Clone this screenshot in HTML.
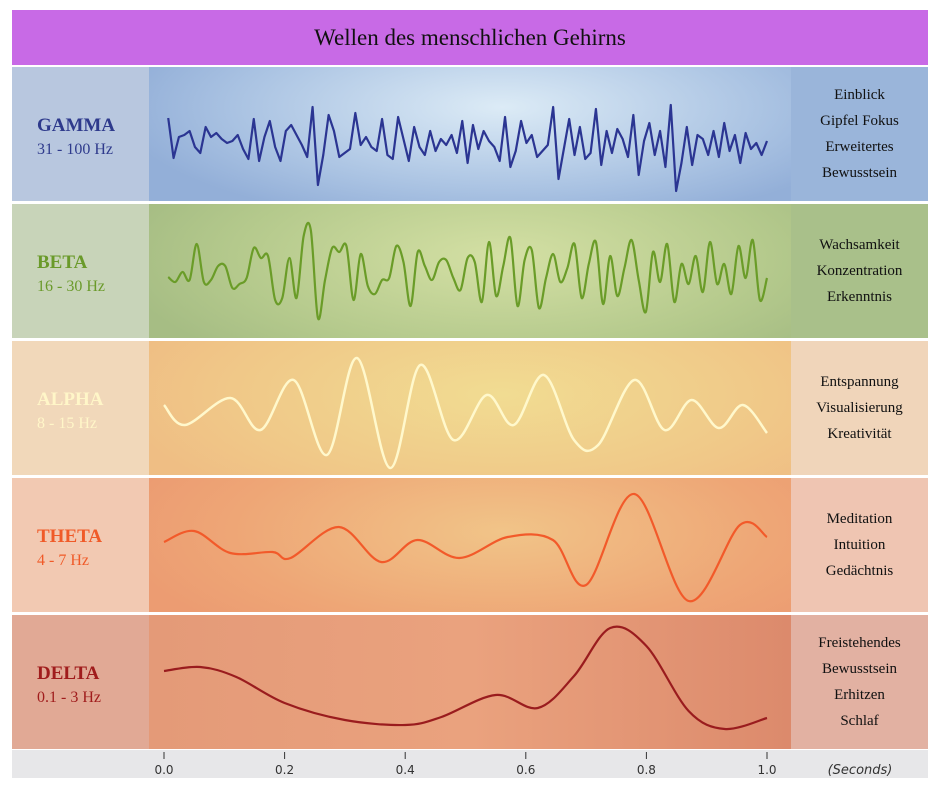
<!DOCTYPE html>
<html><head><meta charset="utf-8"><style>
body{margin:0;background:#fff;width:940px;height:788px;position:relative;overflow:hidden;font-family:"Liberation Serif",serif}
.abs{position:absolute}
.title{left:12px;top:10px;width:916px;height:55px;background:#c86ae6;text-align:center;line-height:55px;font-size:23px;color:#111}
.lab{left:12px;width:137px;height:134px}
.lab .n{position:absolute;left:25px;top:48px;font-weight:bold;font-size:19px}
.lab .h{position:absolute;left:25px;top:74px;font-size:16px}
.plot{left:149px;width:642px;height:134px}
.rt{left:791px;width:137px;height:134px;display:flex;flex-direction:column;justify-content:center;align-items:center;font-size:15px;line-height:26px;color:#111}
.axis{left:12px;top:750px;width:916px;height:28px;background:#e7e7e9}
</style></head><body>
<div class="abs title">Wellen des menschlichen Gehirns</div>

<div class="abs lab" style="top:67px;background:#b8c7df"><span class="n" style="color:#2e3a8c">GAMMA</span><span class="h" style="color:#2e3a8c">31 - 100 Hz</span></div>
<div class="abs plot" style="top:67px;background:radial-gradient(ellipse 60% 90% at 55% 30%,#dcebf6,#a9c2e2 70%,#93afd8)"></div>
<div class="abs rt" style="top:67px;background:#9ab5da"><div>Einblick</div><div>Gipfel Fokus</div><div>Erweitertes</div><div>Bewusstsein</div></div>

<div class="abs lab" style="top:204px;background:#c8d4b9"><span class="n" style="color:#6a9a2a">BETA</span><span class="h" style="color:#6a9a2a">16 - 30 Hz</span></div>
<div class="abs plot" style="top:204px;background:radial-gradient(ellipse 60% 100% at 55% 40%,#d4e0a4,#b4c98c 70%,#a6bd84)"></div>
<div class="abs rt" style="top:204px;background:#a9c08a"><div>Wachsamkeit</div><div>Konzentration</div><div>Erkenntnis</div></div>

<div class="abs lab" style="top:341px;background:#f1d8ba"><span class="n" style="color:#fff6c8">ALPHA</span><span class="h" style="color:#fff6c8">8 - 15 Hz</span></div>
<div class="abs plot" style="top:341px;background:radial-gradient(ellipse 60% 100% at 55% 40%,#f1dc92,#f0c888 70%,#efbe84)"></div>
<div class="abs rt" style="top:341px;background:#f0d5ba"><div>Entspannung</div><div>Visualisierung</div><div>Kreativität</div></div>

<div class="abs lab" style="top:478px;background:#f2c9b2"><span class="n" style="color:#f05a28">THETA</span><span class="h" style="color:#f05a28">4 - 7 Hz</span></div>
<div class="abs plot" style="top:478px;background:radial-gradient(ellipse 60% 100% at 55% 40%,#f1c488,#eea676 70%,#ec9c72)"></div>
<div class="abs rt" style="top:478px;background:#efc5b2"><div>Meditation</div><div>Intuition</div><div>Gedächtnis</div></div>

<div class="abs lab" style="top:615px;background:#e1a995"><span class="n" style="color:#a01c1c">DELTA</span><span class="h" style="color:#a01c1c">0.1 - 3 Hz</span></div>
<div class="abs plot" style="top:615px;background:linear-gradient(90deg,#e49a78,#eaa27e 50%,#dc8a6c)"></div>
<div class="abs rt" style="top:615px;background:#e2b1a2"><div>Freistehendes</div><div>Bewusstsein</div><div>Erhitzen</div><div>Schlaf</div></div>

<div class="abs axis"></div>
<svg class="abs" style="left:0;top:0" width="940" height="788" id="svg"></svg>
<script>
const xTicks=[0.0,0.2,0.4,0.6,0.8,1.0];
const xTickLabels=["0.0","0.2","0.4","0.6","0.8","1.0"];
const gammaValues=[27,-13,8,10,14,-2,-8,18,8,12,6,2,4,10,-4,-14,26,-16,8,24,-2,-16,14,20,10,0,-12,38,-40,-10,30,14,-12,-8,-4,32,0,8,-2,-6,26,-10,-14,28,6,-16,18,-2,-10,14,-6,6,0,10,-8,24,-18,20,-4,14,4,-2,-16,28,-22,-6,24,2,10,-12,-6,0,38,-34,-4,26,-10,18,-14,-8,36,-20,14,-8,16,6,-12,30,-30,4,22,-10,14,-22,40,-46,-18,18,-20,10,6,-10,14,-12,22,-6,10,-18,12,-4,2,-10,4];
const betaValues=[-5,-10,0,-8,28,-10,-8,6,6,-16,-12,-6,24,14,16,-28,-26,14,-26,36,42,-46,-8,24,20,26,-28,18,-14,-22,-8,-6,26,10,-34,20,6,-8,10,12,-6,-18,14,10,-30,30,-24,6,34,-34,12,22,-36,-6,18,-10,4,28,-26,8,30,-32,16,-24,4,32,-8,-40,20,-10,28,-30,8,-12,16,-20,30,-12,8,-22,26,-6,32,-28,-6];
const alphaTimes=[0,0.035,0.11,0.16,0.215,0.27,0.32,0.375,0.425,0.48,0.535,0.58,0.63,0.68,0.72,0.78,0.83,0.875,0.92,0.96,1.0];
const alphaValues=[5,-15,12,-20,30,-45,52,-58,45,-30,15,-15,35,-30,-35,30,-20,10,-18,5,-23];
const thetaTimes=[0,0.05,0.11,0.18,0.21,0.29,0.36,0.42,0.49,0.57,0.645,0.70,0.78,0.87,0.955,1.0];
const thetaValues=[2,13,-9,-8,-14,17,-18,4,-14,7,4,-41,50,-57,19,7];
const deltaTimes=[0,0.06,0.12,0.2,0.3,0.4,0.46,0.55,0.62,0.68,0.74,0.8,0.87,0.93,1.0];
const deltaValues=[10,14,4,-22,-39,-44,-36,-14,-27,5,53,35,-30,-48,-37];

const svg=document.getElementById('svg');
const NS='http://www.w3.org/2000/svg';
const xScale=t=>164+t*603;
function spline(pts){
  let d='M'+pts[0][0]+','+pts[0][1];
  for(let i=0;i<pts.length-1;i++){
    const p0=pts[Math.max(0,i-1)],p1=pts[i],p2=pts[i+1],p3=pts[Math.min(pts.length-1,i+2)];
    const c1=[p1[0]+(p2[0]-p0[0])/6,p1[1]+(p2[1]-p0[1])/6];
    const c2=[p2[0]-(p3[0]-p1[0])/6,p2[1]-(p3[1]-p1[1])/6];
    d+=' C'+c1[0]+','+c1[1]+' '+c2[0]+','+c2[1]+' '+p2[0]+','+p2[1];
  }
  return d;
}
function wave(name,times,vals,center,color,w,smooth,t0){
  const pts=vals.map((v,i)=>{const t=times?times[i]:t0+(1-t0)*i/(vals.length-1);return [xScale(t),center-v];});
  const p=document.createElementNS(NS,'path');
  
  
  p.setAttribute('d',smooth?spline(pts):'M'+pts.map(q=>q.join(',')).join(' L'));
  p.setAttribute('fill','none');p.setAttribute('stroke',color);p.setAttribute('stroke-width',w);
  p.setAttribute('stroke-linejoin','round');
  svg.appendChild(p);
}
wave('gamma-wave',null,gammaValues,145,'#2b3592',2.2,false,0.007);
wave('beta-wave',null,betaValues,272,'#6a9c28',2.2,true,0.007);
wave('alpha-wave',alphaTimes,alphaValues,410,'#fff8cc',2.5,true);
wave('theta-wave',thetaTimes,thetaValues,544,'#f25a2a',2.2,true);
wave('delta-wave',deltaTimes,deltaValues,681,'#9a1c1e',2.2,true);
xTicks.forEach((t,i)=>{
  const l=document.createElementNS(NS,'line');
  
  
  l.setAttribute('x1',xScale(t));l.setAttribute('x2',xScale(t));l.setAttribute('y1',752);l.setAttribute('y2',759);
  l.setAttribute('stroke','#333');l.setAttribute('stroke-width',1);svg.appendChild(l);
  const tx=document.createElementNS(NS,'text');
  
  
  tx.setAttribute('x',xScale(t));tx.setAttribute('y',774);tx.setAttribute('text-anchor','middle');
  tx.setAttribute('font-family','DejaVu Sans, sans-serif');tx.setAttribute('font-size','12');tx.setAttribute('fill','#333');
  tx.textContent=xTickLabels[i];svg.appendChild(tx);
});
const u=document.createElementNS(NS,'text');


u.setAttribute('x',860);u.setAttribute('y',774);u.setAttribute('text-anchor','middle');
u.setAttribute('font-family','DejaVu Sans, sans-serif');u.setAttribute('font-size','13');u.setAttribute('font-style','italic');u.setAttribute('fill','#333');
u.textContent='(Seconds)';svg.appendChild(u);
</script>
</body></html>
